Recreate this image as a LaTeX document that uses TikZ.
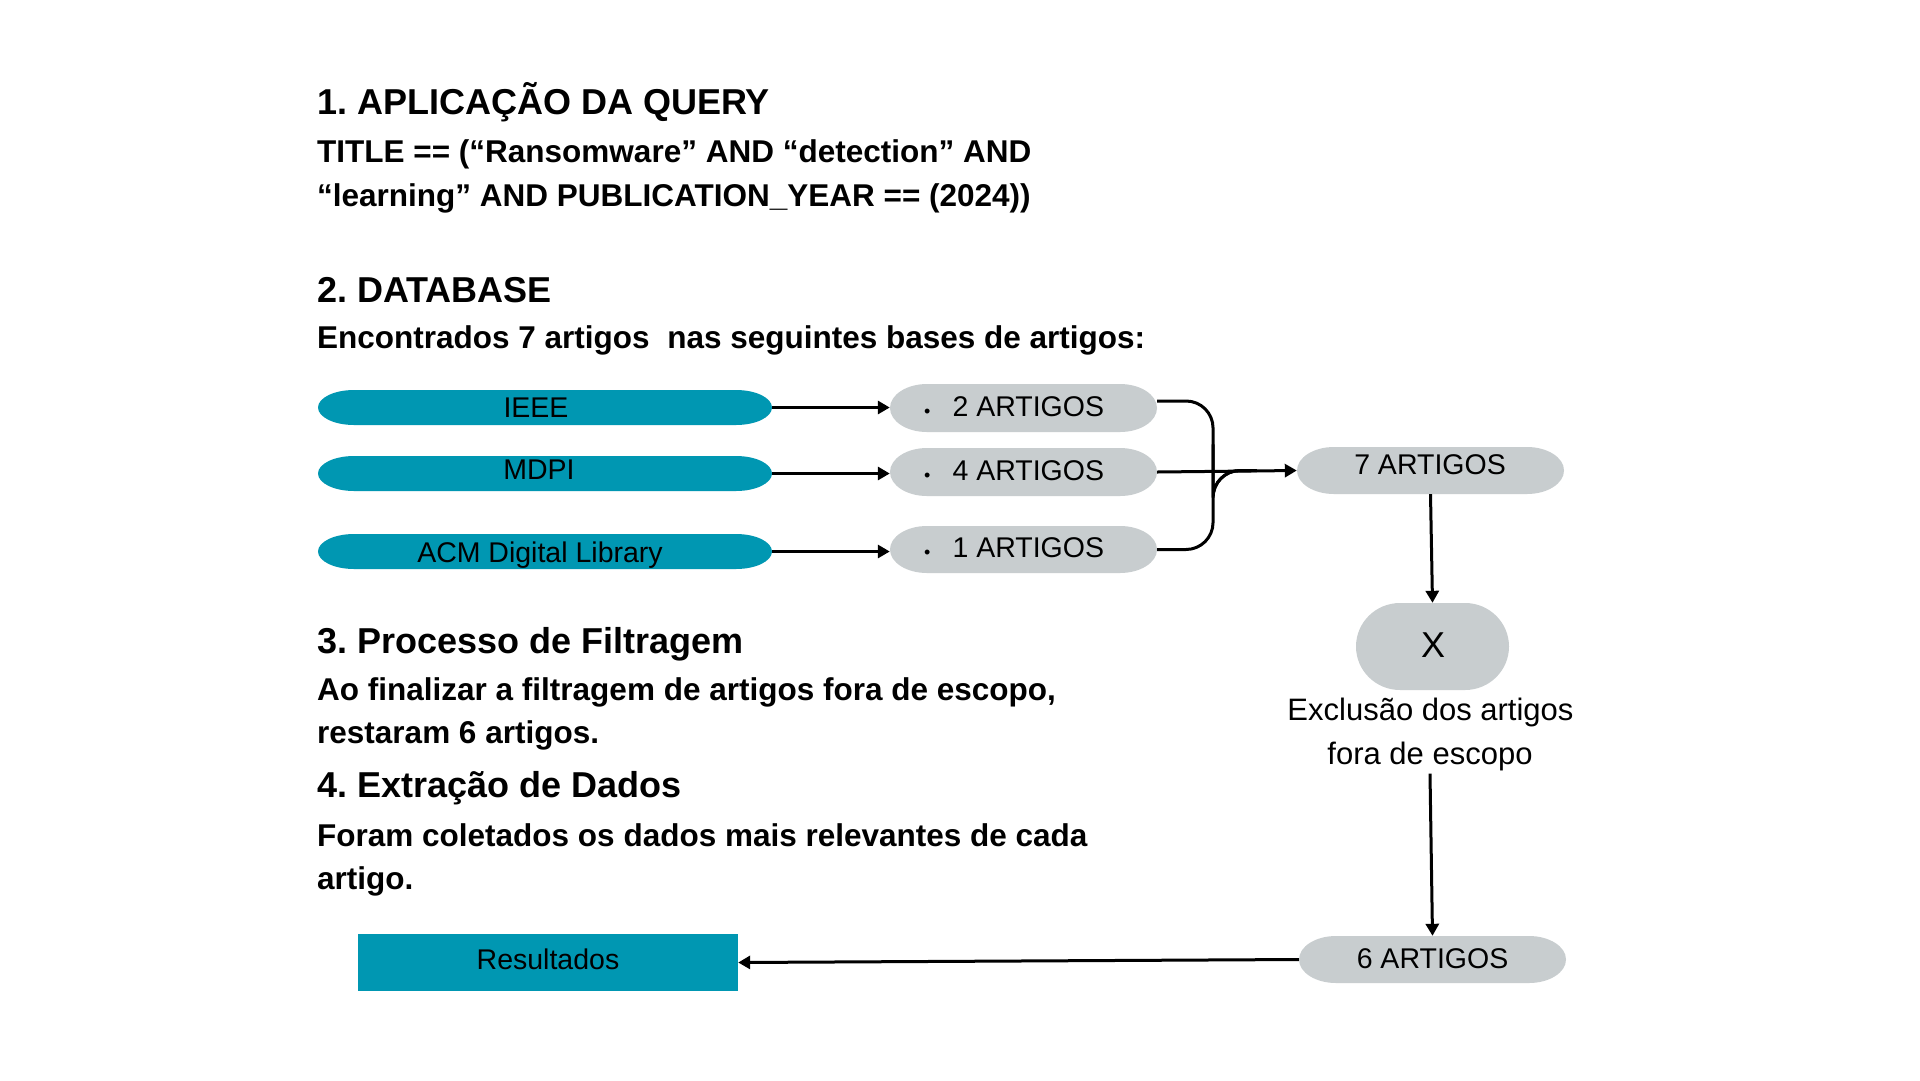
\documentclass[tikz,border=0pt]{standalone}
\usepackage{fontspec}
\setmainfont{Liberation Sans}
\usetikzlibrary{arrows.meta,calc}
\frenchspacing
\definecolor{tealc}{RGB}{0,151,178}
\definecolor{grayc}{RGB}{200,205,207}
% name, cx, cy, w, h, rx, colour
\newcommand\mycapsule[7]{%
  \fill[#7] (#2-#4/2+#6,#3-#5/2) -- (#2+#4/2-#6,#3-#5/2)
    arc[start angle=90,end angle=-90,x radius=#6pt,y radius=#5pt/2]
    -- (#2-#4/2+#6,#3+#5/2)
    arc[start angle=270,end angle=90,x radius=#6pt,y radius=#5pt/2] -- cycle;
  \node[inner sep=0pt,minimum width=#4pt,minimum height=#5pt] (#1) at (#2,#3) {};
}
\tikzset{
  hd/.style={anchor=base west, inner sep=0pt, font=\fontsize{36}{43}\selectfont\bfseries},
  bd/.style={anchor=base west, inner sep=0pt, font=\fontsize{31.5}{38}\selectfont\bfseries},
  nt/.style={anchor=base, inner sep=0pt, font=\fontsize{28.5}{34}\selectfont},
  ct/.style={anchor=base, inner sep=3pt, font=\fontsize{31}{37}\selectfont},
  arr/.style={line width=3pt, -{Triangle[length=12pt,width=13pt]}},
  ln/.style={line width=3pt, rounded corners=27pt},
}
\newcommand\bul{\raisebox{-1.5pt}{\fontsize{18}{18}\selectfont\textbullet}\hspace{22pt}}
\begin{document}
\begin{tikzpicture}[x=1pt,y=-1pt]
\useasboundingbox (0,0) rectangle (1920,1080);
\fill[white] (0,0) rectangle (1920,1080);

% ---- text block ----
\node[hd] (h1) at (317,114.5) {1. APLICAÇÃO DA QUERY};
\node[bd] (q1) at (317,162) {TITLE == (“Ransomware” AND “detection” AND};
\node[bd] (q2) at (317,206) {“learning” AND PUBLICATION\_YEAR == (2024))};
\node[hd] (h2) at (317,302) {2. DATABASE};
\node[bd] (d1) at (317,348.5) {Encontrados 7 artigos~ nas seguintes bases de artigos:};
\node[hd] (h3) at (317,653) {3. Processo de Filtragem};
\node[bd] (f1) at (317,700) {Ao finalizar a filtragem de artigos fora de escopo,};
\node[bd] (f2) at (317,743) {restaram 6 artigos.};
\node[hd] (h4) at (317,797.5) {4. Extração de Dados};
\node[bd] (e1) at (317,846) {Foram coletados os dados mais relevantes de cada};
\node[bd] (e2) at (317,889) {artigo.};

% ---- source capsules ----
\mycapsule{ieee}{545}{407.5}{454}{35}{36}{tealc}
\mycapsule{mdpi}{545}{473.5}{454}{35}{36}{tealc}
\mycapsule{acm}{545}{551.5}{454}{35}{36}{tealc}
\node[nt] (ieee-t) at (536,417) {IEEE};
\node[nt] (mdpi-t) at (539,479) {MDPI};
\node[nt] (acm-t) at (540,562) {ACM Digital Library};

% ---- count capsules ----
\mycapsule{c2}{1023.5}{408}{267}{48}{37}{grayc}
\mycapsule{c4}{1023.5}{472}{267}{48}{37}{grayc}
\mycapsule{c1}{1023.5}{549.5}{267}{47}{37}{grayc}
\node[nt, anchor=base west] (c2-t) at (924,416) {\bul 2 ARTIGOS};
\node[nt, anchor=base west] (c4-t) at (924,480) {\bul 4 ARTIGOS};
\node[nt, anchor=base west] (c1-t) at (924,557) {\bul 1 ARTIGOS};

\mycapsule{c7}{1430.5}{470.5}{267}{47}{37}{grayc}
\node[nt] (c7-t) at (1430,474) {7 ARTIGOS};

\mycapsule{xnode}{1432.5}{646.5}{153}{87}{44}{grayc}
\node[anchor=base, inner sep=0pt, font=\fontsize{36}{43}\selectfont] (x-t) at (1433,657) {X};
\node[ct] (cap1) at (1430.5,720) {Exclusão dos artigos};
\node[ct] (cap2) at (1430,764) {fora de escopo};

\mycapsule{c6}{1432.5}{959.5}{267}{47}{37}{grayc}
\node[nt] (c6-t) at (1432.5,968) {6 ARTIGOS};

\node[fill=tealc, inner sep=0pt, minimum width=380pt, minimum height=57pt] (res) at (548,962.5) {};
\node[nt] (res-t) at (548,969) {Resultados};

% ---- connectors ----
\draw[arr] (ieee.east) -- (ieee.east -| c2.west);
\draw[arr] (mdpi.east) -- (mdpi.east -| c4.west);
\draw[arr] (acm.east) -- (acm.east -| c1.west);

\coordinate (mx) at ($(c4.east)!0.4!(c7.west)$);
\coordinate (mend) at ([xshift=-40pt]c7.west);
\draw[ln] ([yshift=7pt]c2.east) -| (mx) |- (mend);
\draw[ln] (c1.east) -| (mx) |- (mend);
\draw[arr] (c4.east) -- (c7.west);

\draw[arr] (c7.south) -- (xnode.north);
\draw[arr] (cap2.south) -- (c6.north);
\draw[arr] (c6.west) -- (res.east);
\end{tikzpicture}
\end{document}
